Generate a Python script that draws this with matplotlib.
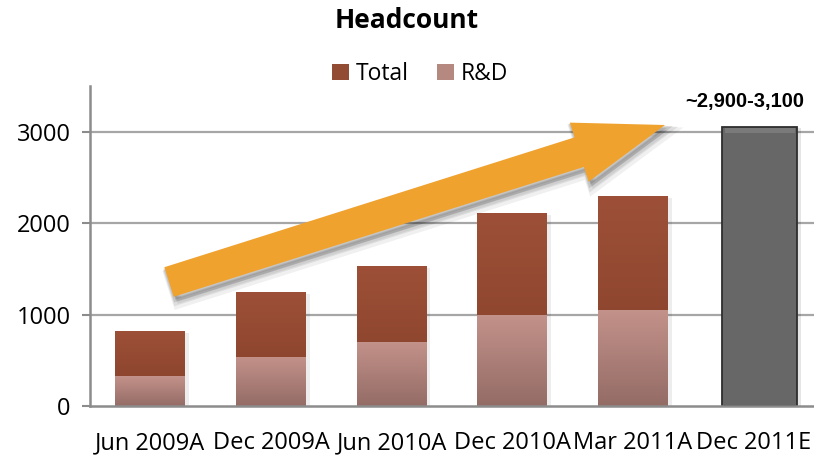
import numpy as np
import matplotlib
matplotlib.use("Agg")
import matplotlib.pyplot as plt
from matplotlib.patches import Polygon
from matplotlib.colors import LinearSegmentedColormap

categories = ["Jun 2009A", "Dec 2009A", "Jun 2010A", "Dec 2010A", "Mar 2011A", "Dec 2011E"]
total = [821, 1248, 1533, 2114, 2300]
rnd = [328, 537, 701, 997, 1051]
estimate = 3056
estimate_label = "~2,900-3,100"
yticks = [0, 1000, 2000, 3000]

W, H = 814, 458
fig = plt.figure(figsize=(W / 100, H / 100), dpi=100)
ax = fig.add_axes([90 / W, 1 - 406 / H, 724 / W, 320 / H])

FONT = "Open Sans"
x = np.arange(len(categories))
ax.set_xlim(-0.5, len(categories) - 0.5)
ax.set_ylim(0, 3500)

for yv in yticks[1:]:
    ax.axhline(yv, color="#a6a6a6", lw=1.6, zorder=0)

def gradient_fill(bars, top, bottom):
    cmap = LinearSegmentedColormap.from_list("g", [bottom, top])
    grad = np.linspace(0, 1, 100).reshape(-1, 1)
    for b in bars:
        x0, y0 = b.get_x(), b.get_y()
        w, h = b.get_width(), b.get_height()
        im = ax.imshow(grad, extent=[x0, x0 + w, y0, y0 + h], origin="lower",
                       cmap=cmap, aspect="auto", zorder=b.get_zorder() + 0.1)
        im.set_clip_path(b)

bw = 0.58
# soft shadows
for i in range(len(total)):
    ax.bar(x[i] + 0.015, total[i], width=bw + 0.03, bottom=-20, color="#000000", alpha=0.07, zorder=1, lw=0)
b_tot = ax.bar(x[:len(total)], total, width=bw, color="#924c33", zorder=2, lw=0, label="Total")
gradient_fill(b_tot, "#9d5037", "#843f2a")
b_rnd = ax.bar(x[:len(rnd)], rnd, width=bw, color="#b58880", zorder=3, lw=0, label="R&D")
gradient_fill(b_rnd, "#c3928a", "#946c66")

# estimate bar
ex = x[-1] + 0.05
ew = 0.62
ax.bar(ex + 0.015, estimate, width=ew + 0.03, bottom=-20, color="#000000", alpha=0.1, zorder=1, lw=0)
ax.bar(ex, estimate, width=ew, color="#676767", edgecolor="#2e2e2e", lw=1.3, zorder=4)
ax.bar(ex, 60, width=ew - 0.04, bottom=estimate - 75, color="#7a7a7a", lw=0, zorder=4.5)
ax.text(ex + ew / 2 + 0.06, estimate + 170, estimate_label, ha="right", va="bottom",
        fontsize=14.5, fontweight="bold", family="Liberation Sans", zorder=5)

ax.set_xticks(x)
ax.set_xticklabels(categories, fontsize=17, family=FONT)
ax.set_yticks(yticks)
ax.set_yticklabels([str(v) for v in yticks], fontsize=17, family=FONT)
ax.tick_params(axis="x", length=0, pad=18)
ax.tick_params(axis="y", length=6, width=1.5, color="#8c8c8c", pad=8)
for s in ["top", "right"]:
    ax.spines[s].set_visible(False)
for s in ["left", "bottom"]:
    ax.spines[s].set_color("#8c8c8c")
    ax.spines[s].set_linewidth(1.8)
    ax.spines[s].set_zorder(6)

# arrow (pixel geometry -> figure fraction)
tail = np.array([169.0, 282.0])
tip = np.array([665.0, 125.0])
u = (tip - tail) / np.linalg.norm(tip - tail)
n = np.array([-u[1], u[0]])
sw, hw, hl = 15.5, 31.0, 90.0
base = tip - u * hl
pts = np.array([tail + n * sw, base + n * sw, base + n * hw, tip,
                base - n * hw, base - n * sw, tail - n * sw])
def to_fig(p, off=(0, 0)):
    q = p + np.array(off)
    return np.column_stack([q[:, 0] / W, 1 - q[:, 1] / H])
for k, a in [(7, 0.06), (5, 0.08), (3, 0.1)]:
    fig.patches.append(Polygon(to_fig(pts, (k * 0.6, k)), closed=True, transform=fig.transFigure,
                               facecolor="#000000", alpha=a, lw=k, edgecolor="#000000", zorder=7))
fig.patches.append(Polygon(to_fig(pts), closed=True, transform=fig.transFigure,
                           facecolor="#f0a22e", edgecolor="none", zorder=8))

fig.text(0.5, 1 - 20 / H, "Headcount", ha="center", va="center", fontsize=19,
         fontweight="bold", family=FONT)
leg = fig.legend(handles=[b_tot, b_rnd], labels=["Total", "R&D"], loc="center",
                 bbox_to_anchor=(420 / W, 1 - 74 / H), ncol=2, frameon=False,
                 prop={"family": FONT, "size": 16.5}, handlelength=0.75, handleheight=0.75,
                 handletextpad=0.3, columnspacing=1.2)

fig.savefig("out.png", dpi=100)
